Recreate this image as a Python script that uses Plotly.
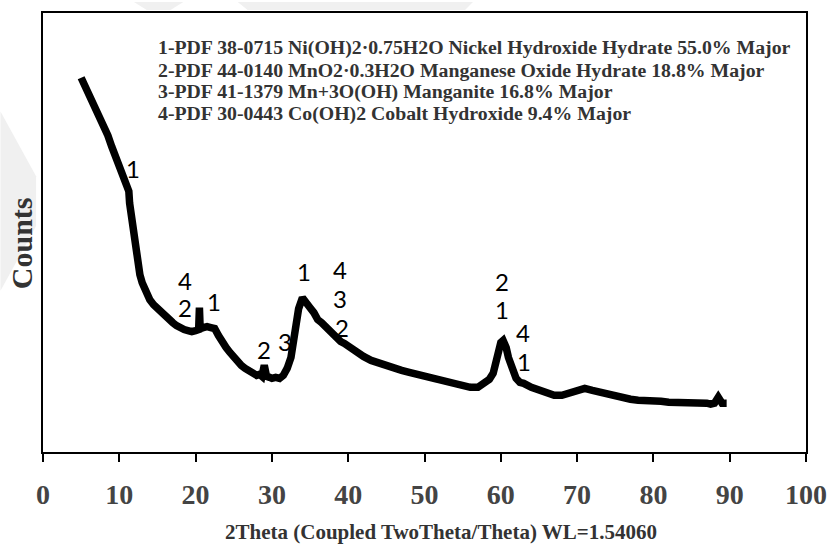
import plotly.graph_objects as go

# ---- data (counts in arbitrary units) ----
two_theta = [5.0, 5.3, 5.5, 5.8, 6.0, 6.3, 6.5, 6.8, 7.0, 7.3, 7.5, 7.8, 8.0, 8.5, 9.0, 9.5,
             10.0, 10.5, 11.0, 11.1, 11.25, 11.35, 11.5, 12.0, 12.3, 12.7, 13.0, 13.5,
             14.0, 14.5, 15.0, 15.5, 16.0, 16.5, 17.0, 17.5, 18.0, 18.5, 19.0, 19.5, 20.0,
             20.4, 20.5, 20.6, 21.0, 21.3, 21.5, 22.0, 22.5, 23.0, 23.5, 24.0, 24.5, 25.0,
             25.5, 26.0, 26.5, 27.0, 27.5, 28.0, 28.4, 28.7, 29.0, 29.3, 29.7, 30.0, 30.5,
             31.0, 31.5, 32.0, 32.5, 33.0, 33.5, 34.0, 34.5, 35.0, 35.5, 36.0, 36.5, 37.0,
             37.5, 38.0, 38.5, 39.0, 39.5, 40.0, 41.0, 42.0, 43.0, 44.0, 45.0, 46.0, 47.0,
             48.0, 49.0, 50.0, 51.0, 52.0, 53.0, 54.0, 55.0, 56.0, 57.0, 57.5, 58.0, 58.5,
             59.0, 59.5, 60.0, 60.3, 60.7, 61.0, 61.5, 62.0, 62.5, 63.0, 64.0, 65.0, 66.0,
             67.0, 68.0, 69.0, 70.0, 71.0, 72.0, 73.0, 74.0, 75.0, 76.0, 77.0, 78.0, 79.0,
             80.0, 81.0, 82.0, 83.0, 84.0, 85.0, 86.0, 87.0, 87.5, 88.0, 88.5, 89.0, 89.6]
counts = [376, 371, 369, 364, 362, 357, 355, 350, 347, 342, 338, 333, 328, 318, 307, 297,
          287, 277, 264, 263, 262, 250, 242, 212, 192, 178, 170, 161,
          153, 148, 144, 140, 137, 133, 130, 127, 124, 123, 122, 121, 122,
          123, 145, 124, 125, 127, 126, 125, 124, 117, 110, 105, 100, 95,
          91, 87, 84, 82, 79, 77, 78, 76, 87, 76, 75, 74, 75,
          74, 77, 84, 95, 119, 144, 155, 151, 145, 140, 133, 130, 126,
          121, 118, 114, 111, 109, 106, 100, 96, 92, 89, 86, 84, 82,
          80, 78, 76, 74, 72, 70, 68, 67, 65, 65, 67, 70, 73,
          79, 95, 110, 112, 105, 95, 82, 74, 70, 69, 65, 62, 59,
          57, 57, 59, 62, 64, 62, 60, 59, 57, 54, 53, 52, 52,
          52, 51, 50, 50, 49, 49, 49, 49, 48, 49, 55, 49, 49]

x_ticks = [0, 10, 20, 30, 40, 50, 60, 70, 80, 90, 100]

legend_lines = [
    "1-PDF 38-0715 Ni(OH)2·0.75H2O Nickel Hydroxide Hydrate 55.0% Major",
    "2-PDF 44-0140 MnO2·0.3H2O Manganese Oxide Hydrate 18.8% Major",
    "3-PDF 41-1379 Mn+3O(OH) Manganite 16.8% Major",
    "4-PDF 30-0443 Co(OH)2 Cobalt Hydroxide 9.4% Major",
]

# peak labels: (text, 2theta, counts position)
peak_labels = [
    ("1", 11.8, 285),
    ("4", 18.65, 172), ("2", 18.65, 145), ("1", 22.4, 151),
    ("2", 28.9, 103), ("3", 31.7, 111),
    ("1", 34.2, 181), ("4", 38.9, 183), ("3", 38.9, 154), ("2", 39.25, 125),
    ("2", 60.1, 171), ("1", 60.1, 143), ("4", 62.95, 120), ("1", 63.1, 91),
]

W, H = 838, 554
ML, MR, MT, MB = 43, 23, 11, 102
PW, PH = W - ML - MR, H - MT - MB

def px(xp):
    return (xp - ML) / PW

def py(yp):
    return (H - MB - yp) / PH

SERIF = "Liberation Serif, Times New Roman, serif"
SANS = "Lato, Open Sans, sans-serif"

fig = go.Figure()
fig.add_trace(go.Scatter(
    x=two_theta, y=counts, mode="lines",
    line=dict(color="black", width=7.5, shape="linear"),
    hoverinfo="skip", showlegend=False,
))

annotations = []
for i, line in enumerate(legend_lines):
    annotations.append(dict(
        text=line, xref="paper", yref="paper",
        x=px(157), y=py(46 + i * 22), xanchor="left", yanchor="middle",
        showarrow=False,
        font=dict(family=SERIF, size=19.8, color="#333333", weight="bold"),
    ))
for t, xv, yv in peak_labels:
    annotations.append(dict(
        text=t, x=xv, y=yv, xref="x", yref="y", showarrow=False,
        xanchor="center", yanchor="middle",
        font=dict(family=SANS, size=24, color="black"),
    ))
annotations.append(dict(
    text="Counts", xref="paper", yref="paper", x=px(22), y=py(242),
    xanchor="center", yanchor="middle", textangle=-90, showarrow=False,
    font=dict(family=SERIF, size=30, color="#333333", weight="bold"),
))
annotations.append(dict(
    text="2Theta (Coupled TwoTheta/Theta) WL=1.54060", xref="paper", yref="paper",
    x=px(446), y=py(532), xanchor="center", yanchor="middle", showarrow=False,
    font=dict(family=SERIF, size=21, color="#333333", weight="bold"),
))

# faint background watermark shapes
shapes = [
    dict(type="path", xref="paper", yref="paper", layer="below",
         path=f"M {px(135)},{py(0)} L {px(185)},{py(0)} L {px(172)},{py(8)} L {px(148)},{py(8)} Z",
         fillcolor="#f0f0f0", line=dict(width=0)),
    dict(type="path", xref="paper", yref="paper", layer="below",
         path=f"M {px(240)},{py(0)} L {px(478)},{py(0)} L {px(470)},{py(8)} L {px(250)},{py(8)} Z",
         fillcolor="#f0f0f0", line=dict(width=0)),
    dict(type="path", xref="paper", yref="paper", layer="below",
         path=f"M {px(0)},{py(110)} L {px(36)},{py(175)} L {px(36)},{py(225)} L {px(0)},{py(290)} Z",
         fillcolor="#f0f0f0", line=dict(width=0)),
]

fig.update_layout(
    width=W, height=H, margin=dict(l=ML, r=MR, t=MT, b=MB),
    paper_bgcolor="white", plot_bgcolor="white",
    annotations=annotations, shapes=shapes, showlegend=False,
    xaxis=dict(range=[0, 100], tickvals=x_ticks, ticktext=[str(v) for v in x_ticks],
               showgrid=False, zeroline=False, showline=True, linecolor="black",
               linewidth=2, mirror=True, ticks="outside", ticklen=8, tickwidth=2,
               tickcolor="black", ticklabelstandoff=8,
               tickfont=dict(family=SERIF, size=28, color="#444444", weight="bold")),
    yaxis=dict(range=[0, PH], showgrid=False, zeroline=False, showline=True,
               linecolor="black", linewidth=2, mirror=True, ticks="",
               showticklabels=False),
)

fig.write_html("out.html")
